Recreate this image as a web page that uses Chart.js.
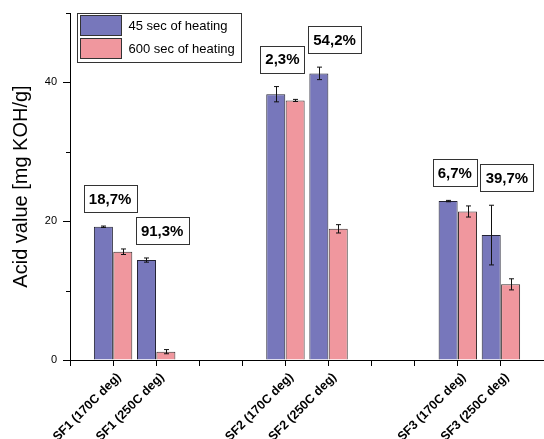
<!DOCTYPE html>
<html>
<head>
<meta charset="utf-8">
<script src="https://cdn.jsdelivr.net/npm/chart.js@4.4.0/dist/chart.umd.min.js"></script>
<style>
body { margin: 0; background: #fff; }
#wrap { width: 544px; height: 439px; }
</style>
</head>
<body>
<div id="wrap"><canvas id="acidChart" width="544" height="439"></canvas></div>
<script>
// samples, empty slots keep the gaps between SF1 / SF2 / SF3
var categories = ['', 'SF1 (170C deg)', 'SF1 (250C deg)', '', '', 'SF2 (170C deg)', 'SF2 (250C deg)', '', '', 'SF3 (170C deg)', 'SF3 (250C deg)', ''];
var seriesNames = ['45 sec of heating', '600 sec of heating'];
var heat45 = [null, 19.2, 14.4, null, null, 38.3, 41.3, null, null, 22.9, 18.0, null];
var err45 = [null, 0.1, 0.3, null, null, 1.1, 0.9, null, null, 0.1, 4.3, null];
var heat600 = [null, 15.6, 1.2, null, null, 37.4, 18.9, null, null, 21.4, 10.9, null];
var err600 = [null, 0.4, 0.3, null, null, 0.15, 0.6, null, null, 0.8, 0.8, null];
// drop of acid value written above each pair
var drops = ['', '18,7%', '91,3%', '', '', '2,3%', '54,2%', '', '', '6,7%', '39,7%', ''];
var yTicks = [0, 10, 20, 30, 40, 50];

var FONT = 'Liberation Sans, Arial, sans-serif';
Chart.defaults.font.family = FONT;
Chart.defaults.color = '#000';

/*********************************************/
var errorBars = {
    id: 'errorBars',
    afterDatasetsDraw: function(chart) {
        var ctx = chart.ctx;
        var y = chart.scales.y;
        var errs = [err45, err600];
        ctx.save();
        ctx.strokeStyle = '#111';
        ctx.lineWidth = 1;
        chart.data.datasets.forEach(function(ds, d) {
            chart.getDatasetMeta(d).data.forEach(function(bar, i) {
                var v = ds.data[i], e = errs[d][i];
                if (v == null || e == null) return;
                var x = Math.round(bar.x) + 0.5;
                var t = y.getPixelForValue(v + e), b = y.getPixelForValue(v - e);
                ctx.beginPath();
                ctx.moveTo(x, t); ctx.lineTo(x, b);
                ctx.moveTo(x - 2.5, t); ctx.lineTo(x + 2.5, t);
                ctx.moveTo(x - 2.5, b); ctx.lineTo(x + 2.5, b);
                ctx.stroke();
            });
        });
        ctx.restore();
    }
};

/*********************************************/
var dropLabels = {
    id: 'dropLabels',
    afterDraw: function(chart) {
        var ctx = chart.ctx;
        var x = chart.scales.x, y = chart.scales.y;
        ctx.save();
        ctx.font = 'bold 15px ' + FONT;
        ctx.textAlign = 'center';
        ctx.textBaseline = 'middle';
        drops.forEach(function(txt, i) {
            if (!txt) return;
            var top = Math.min(
                y.getPixelForValue(heat45[i] + err45[i]),
                y.getPixelForValue(heat600[i] + err600[i])
            );
            var shift = categories[i].indexOf('170') > 0 ? -3 : 6;
            var cx = x.getPixelForValue(i) + shift;
            var w = Math.round(ctx.measureText(txt).width + 10);
            var h = 27;
            var bottom = top - 14;
            var bx = Math.round(cx - w / 2) + 0.5, by = Math.round(bottom - h) + 0.5;
            ctx.fillStyle = '#fff';
            ctx.fillRect(bx, by, w, h);
            ctx.strokeStyle = '#333';
            ctx.lineWidth = 1;
            ctx.strokeRect(bx, by, w, h);
            ctx.fillStyle = '#000';
            ctx.fillText(txt, cx, bottom - h / 2 + 1);
        });
        ctx.restore();
    }
};

/*********************************************/
var boxLegend = {
    id: 'boxLegend',
    afterDraw: function(chart) {
        var ctx = chart.ctx;
        var a = chart.chartArea;
        var left = a.left + 7.5, top = a.top + 0.5;
        ctx.save();
        ctx.strokeStyle = '#333';
        ctx.lineWidth = 1;
        ctx.fillStyle = '#fff';
        ctx.fillRect(left, top, 164, 49);
        ctx.strokeRect(left, top, 164, 49);
        ctx.font = '13px ' + FONT;
        ctx.textBaseline = 'middle';
        chart.data.datasets.forEach(function(ds, d) {
            var sy = top + 2 + d * 23;
            ctx.fillStyle = ds.backgroundColor;
            ctx.fillRect(left + 3, sy, 41, 20);
            ctx.strokeStyle = '#333';
            ctx.strokeRect(left + 3, sy, 41, 20);
            ctx.fillStyle = '#000';
            ctx.fillText(ds.label, left + 51, sy + 11);
        });
        ctx.restore();
    }
};

/*********************************************/
var minorTicks = {
    id: 'minorTicks',
    afterDraw: function(chart) {
        var ctx = chart.ctx;
        var y = chart.scales.y;
        var x0 = chart.chartArea.left;
        ctx.save();
        ctx.strokeStyle = '#000';
        ctx.lineWidth = 1;
        yTicks.forEach(function(v) {
            if (v % 20 === 0) return;
            var p = Math.round(y.getPixelForValue(v)) + 0.5;
            ctx.beginPath();
            ctx.moveTo(x0 - 4, p); ctx.lineTo(x0, p);
            ctx.stroke();
        });
        ctx.restore();
    }
};

var ctx = document.getElementById('acidChart').getContext('2d');
var chart = new Chart(ctx, {
    type: 'bar',
    data: {
        labels: categories,
        datasets: [{
            label: seriesNames[0],
            data: heat45,
            backgroundColor: '#7777bb',
            borderColor: '#222233',
            borderWidth: 1
        }, {
            label: seriesNames[1],
            data: heat600,
            backgroundColor: '#f0979e',
            borderColor: '#3a3030',
            borderWidth: 1
        }]
    },
    options: {
        responsive: false,
        animation: false,
        categoryPercentage: 0.9,
        barPercentage: 0.98,
        layout: { padding: { top: 13, right: 0, left: 0, bottom: 0 } },
        plugins: {
            legend: { display: false },
            tooltip: { enabled: false }
        },
        scales: {
            x: {
                offset: false,
                grid: { offset: false, drawOnChartArea: false, tickLength: 6, color: '#000' },
                border: { color: '#000', width: 1 },
                ticks: {
                    autoSkip: false,
                    minRotation: 45,
                    maxRotation: 45,
                    labelOffset: 6,
                    padding: 4,
                    font: { size: 12.5, weight: 'bold' }
                },
                afterFit: function(s) {
                    s.height = 79;
                    s.paddingLeft = 0;
                    s.paddingRight = 0;
                }
            },
            y: {
                min: 0,
                max: 50,
                grid: {
                    drawOnChartArea: false,
                    tickLength: 7,
                    tickColor: function(c) { return c.tick && c.tick.value % 20 === 0 ? '#000' : 'rgba(0,0,0,0)'; }
                },
                border: { color: '#000', width: 1 },
                ticks: {
                    stepSize: 10,
                    padding: 6,
                    font: { size: 11 },
                    callback: function(v) { return v % 20 === 0 ? v : ''; }
                },
                title: {
                    display: true,
                    text: 'Acid value [mg KOH/g]',
                    font: { size: 20 },
                    padding: { top: 9, bottom: 0 }
                },
                afterFit: function(s) { s.width = 70; }
            }
        }
    },
    plugins: [errorBars, dropLabels, boxLegend, minorTicks]
});
</script>
</body>
</html>
